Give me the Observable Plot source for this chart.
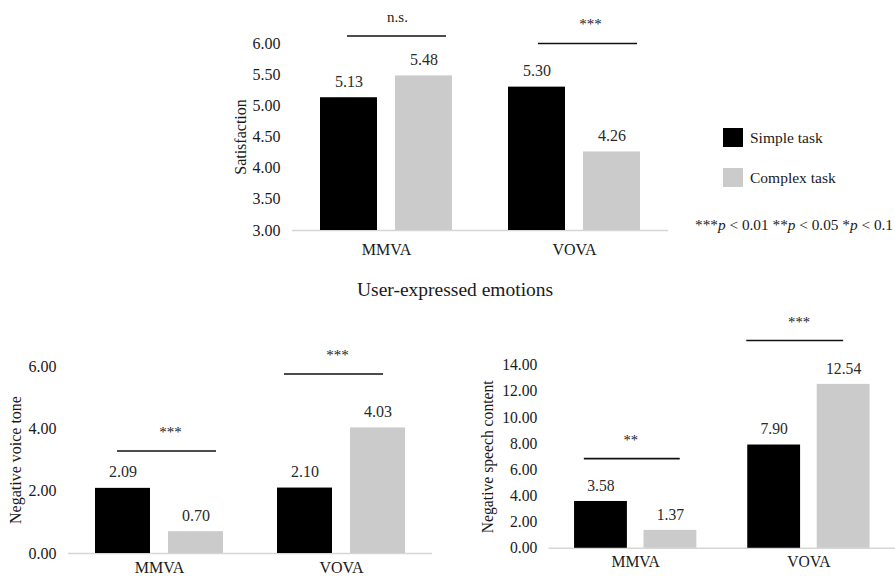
<!DOCTYPE html>
<html>
<head>
<meta charset="utf-8">
<script src="https://cdn.jsdelivr.net/npm/d3@7"></script>
<script src="https://cdn.jsdelivr.net/npm/@observablehq/plot@0.6"></script>
<style>
  html, body { margin: 0; padding: 0; background: #fff; }
  #root { position: relative; width: 895px; height: 576px; overflow: hidden; background: #fff;
          font-family: "Liberation Serif", "Times New Roman", serif; color: #1a1a1a; }
  .abs { position: absolute; white-space: nowrap; line-height: 1; }
  .sw { position: absolute; width: 20px; height: 19px; }
</style>
</head>
<body>
<div id="root">
  <div id="top" class="abs" style="left:220px;top:0px"></div>
  <div id="voice" class="abs" style="left:0px;top:310px"></div>
  <div id="speech" class="abs" style="left:440px;top:310px"></div>
  <div id="legend"></div>
  <div id="title" class="abs" style="left:357px;top:280px;font-size:19.5px;"></div>
  <div id="pnote" class="abs" style="left:695px;top:217px;font-size:15.3px;"></div>
</div>
<script>
// ---------- data ----------
const categories = ["MMVA", "VOVA"];
const tasks = ["Simple task", "Complex task"];
const taskColors = ["#000000", "#cbcbcb"];

const satisfactionSimple = [5.13, 5.30];
const satisfactionComplex = [5.48, 4.26];
const satisfactionTicks = [3.0, 3.5, 4.0, 4.5, 5.0, 5.5, 6.0];
const satisfactionSig = ["n.s.", "***"];
const satisfactionSigLevel = [6.12, 6.0];

const voiceSimple = [2.09, 2.10];
const voiceComplex = [0.70, 4.03];
const voiceTicks = [0, 2, 4, 6];
const voiceSig = ["***", "***"];
const voiceSigLevel = [3.29, 5.76];

const speechSimple = [3.58, 7.90];
const speechComplex = [1.37, 12.54];
const speechTicks = [0, 2, 4, 6, 8, 10, 12, 14];
const speechSig = ["**", "***"];
const speechSigLevel = [6.86, 15.9];

const chartTitle = "User-expressed emotions";
const pNote = [["***", "p", " < 0.01 "], ["**", "p", " < 0.05 "], ["*", "p", " < 0.1"]];

// ---------- helpers ----------
const FONT = "Liberation Serif";

function rowsOf(simple, complex) {
  const rows = [];
  categories.forEach((c, i) => {
    rows.push({cat: c, task: tasks[0], value: simple[i]});
    rows.push({cat: c, task: tasks[1], value: complex[i]});
  });
  return rows;
}

function makeChart({simple, complex, ticks, sig, sigLevel, label, width, height,
                    marginLeft, marginTop, marginBottom, labelOffset, fxPad, sigInsets, sigDx}) {
  const rows = rowsOf(simple, complex);
  const base = ticks[0];
  const sigRows = categories.map((c, i) => ({cat: c, label: sig[i], y: sigLevel[i]}));
  const marks = [
    Plot.ruleY([base], {stroke: "#d6d6d6", strokeWidth: 1.5}),
    Plot.barY(rows, {fx: "cat", x: "task", y1: base, y2: "value", fill: "task"}),
    Plot.text(rows, {fx: "cat", x: "task", y: "value", text: d => d.value.toFixed(2),
                     dy: -16, fontSize: 16, fill: "#2a2a2a"})
  ];
  sigRows.forEach((r, i) => {
    marks.push(Plot.ruleY([r], {fx: "cat", y: "y", stroke: "#111", strokeWidth: 1.6,
                                insetLeft: sigInsets[i][0], insetRight: sigInsets[i][1]}));
    marks.push(Plot.text([r], {fx: "cat", y: "y", text: "label", frameAnchor: "middle",
                               dx: sigDx[i], dy: -19, fontSize: 15, fill: "#222"}));
  });
  return Plot.plot({
    width, height, marginLeft, marginTop, marginBottom, marginRight: 0,
    style: {fontFamily: FONT, fontSize: "16px", color: "#1a1a1a", overflow: "visible"},
    fx: {domain: categories, padding: 0, axis: "bottom", tickSize: 0, tickPadding: fxPad, label: null},
    x: {domain: tasks, paddingInner: 0.24, paddingOuter: 0.36, axis: null},
    y: {domain: [base, ticks[ticks.length - 1]], ticks, tickFormat: d3.format(".2f"),
        tickSize: 0, tickPadding: 12, label, labelArrow: false, labelAnchor: "center", labelOffset, line: false},
    color: {domain: tasks, range: taskColors},
    marks
  });
}

// ---------- charts ----------
document.getElementById("top").append(makeChart({
  simple: satisfactionSimple, complex: satisfactionComplex, ticks: satisfactionTicks,
  sig: satisfactionSig, sigLevel: satisfactionSigLevel, label: "Satisfaction",
  width: 448, height: 262, marginLeft: 72, marginTop: 43, marginBottom: 32, labelOffset: 58, fxPad: 13,
  sigInsets: [[55, 34], [58, 31]], sigDx: [11, 16]
}));

document.getElementById("voice").append(makeChart({
  simple: voiceSimple, complex: voiceComplex, ticks: voiceTicks,
  sig: voiceSig, sigLevel: voiceSigLevel, label: "Negative voice tone",
  width: 432, height: 267, marginLeft: 68, marginTop: 56, marginBottom: 24, labelOffset: 59, fxPad: 8,
  sigInsets: [[49, 34], [34, 49]], sigDx: [11, -4]
}));

document.getElementById("speech").append(makeChart({
  simple: speechSimple, complex: speechComplex, ticks: speechTicks,
  sig: speechSig, sigLevel: speechSigLevel, label: "Negative speech content",
  width: 465, height: 267, marginLeft: 110, marginTop: 56, marginBottom: 24, labelOffset: 69, fxPad: 8,
  sigInsets: [[36, 43], [25, 53]], sigDx: [-5, -10]
}));

// ---------- legend & notes ----------
const legend = document.getElementById("legend");
tasks.forEach((t, i) => {
  const sw = document.createElement("div");
  sw.className = "sw";
  sw.style.left = "723px";
  sw.style.top = (128 + i * 40) + "px";
  sw.style.background = taskColors[i];
  legend.append(sw);
  const tx = document.createElement("div");
  tx.className = "abs";
  tx.style.left = "750px";
  tx.style.top = (130 + i * 40) + "px";
  tx.style.fontSize = "15.5px";
  tx.textContent = t;
  legend.append(tx);
});

document.getElementById("title").textContent = chartTitle;
const pn = document.getElementById("pnote");
pNote.forEach(([stars, p, rest]) => {
  pn.append(document.createTextNode(stars));
  const em = document.createElement("i");
  em.textContent = p;
  pn.append(em);
  pn.append(document.createTextNode(rest));
});
</script>
</body>
</html>
